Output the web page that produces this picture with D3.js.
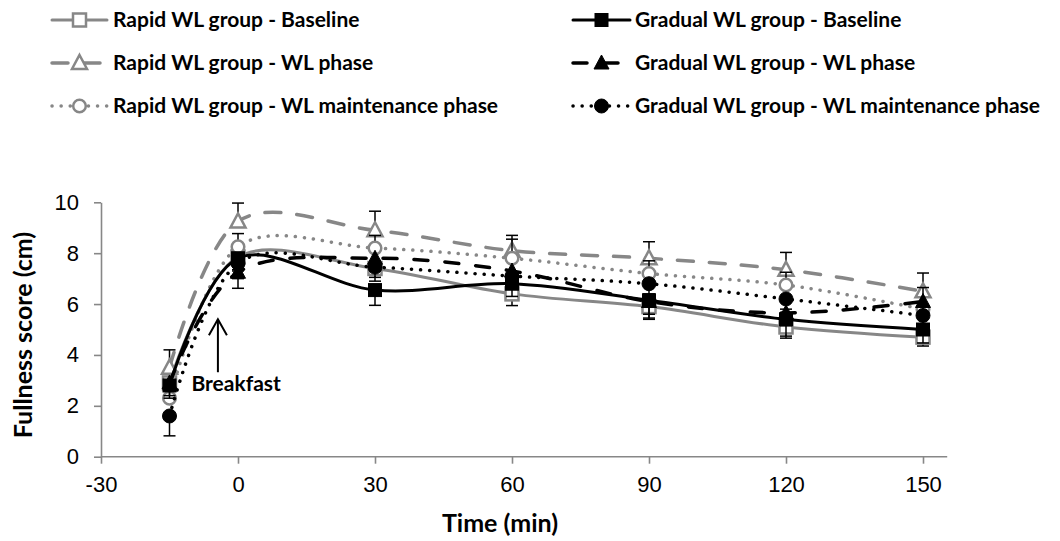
<!DOCTYPE html>
<html>
<head>
<meta charset="utf-8">
<script src="https://cdn.jsdelivr.net/npm/d3@7"></script>
<style>
  body { margin: 0; background: #fff; }
  svg { display: block; font-family: Lato, "Open Sans", sans-serif; }
</style>
</head>
<body>
<svg id="chart" width="1060" height="541"></svg>
<script>
// time points (min) and mean fullness scores (cm)
var times = [-15, 0, 30, 60, 90, 120, 150];

var rapidBaseline   = [2.9, 7.85, 7.4, 6.4, 5.9, 5.1, 4.7];
var rapidWL         = [3.5, 9.25, 8.9, 8.1, 7.8, 7.35, 6.5];
var rapidMaint      = [2.3, 8.25, 8.2, 7.8, 7.2, 6.75, 5.8];
var gradualBaseline = [2.8, 7.8, 6.55, 6.8, 6.15, 5.4, 5.0];
var gradualWL       = [2.9, 7.25, 7.8, 7.3, 6.1, 5.65, 6.1];
var gradualMaint    = [1.6, 7.6, 7.45, 7.1, 6.8, 6.2, 5.55];

// error bar lengths (one direction per series)
var rapidBaselineErr   = [0.5, 0.5, 0.5, 0.46, 0.5, 0.44, 0.35];
var rapidWLErr         = [0.7, 0.72, 0.75, 0.6, 0.65, 0.68, 0.72];
var rapidMaintErr      = [0.5, 0.52, 0.5, 0.75, 0.5, 0.5, 0.85];
var gradualBaselineErr = [0.5, 0.5, 0.6, 0.5, 0.7, 0.66, 0.53];
var gradualWLErr       = [0.5, 0.63, 0.5, 0.5, 0.5, 0.5, 0.5];
var gradualMaintErr    = [0.78, 0.6, 0.4, 0.4, 0.4, 0.4, 0.4];

var seriesNames = [
    "Rapid WL group - Baseline",
    "Rapid WL group - WL phase",
    "Rapid WL group - WL maintenance phase",
    "Gradual WL group - Baseline",
    "Gradual WL group - WL phase",
    "Gradual WL group - WL maintenance phase"
];

var yTicks = [0, 2, 4, 6, 8, 10];
var xTicks = [-30, 0, 30, 60, 90, 120, 150];

var GREY = "#878787";

// styles kept apart from the values
var series = [
    {name: seriesNames[0], vals: rapidBaseline,   err: rapidBaselineErr,   dir: -1, color: GREY,   dash: null,    width: 3,   marker: "square",   filled: false},
    {name: seriesNames[1], vals: rapidWL,         err: rapidWLErr,         dir: 1,  color: GREY,   dash: "16,16", width: 3.5, marker: "triangle", filled: false},
    {name: seriesNames[2], vals: rapidMaint,      err: rapidMaintErr,      dir: 1,  color: GREY,   dash: "0.1,9", width: 3.5, marker: "circle",   filled: false},
    {name: seriesNames[3], vals: gradualBaseline, err: gradualBaselineErr, dir: -1, color: "#000", dash: null,    width: 3,   marker: "square",   filled: true},
    {name: seriesNames[4], vals: gradualWL,       err: gradualWLErr,       dir: -1, color: "#000", dash: "14,17", width: 3.5, marker: "triangle", filled: true},
    {name: seriesNames[5], vals: gradualMaint,    err: gradualMaintErr,    dir: -1, color: "#000", dash: "0.1,9", width: 3.5, marker: "circle",   filled: true}
];

var svg = d3.select("#chart");

var x = d3.scaleLinear().domain([-30, 150]).range([101, 923]);
var y = d3.scaleLinear().domain([0, 10]).range([456.7, 202.3]);

// axes (plain hyphen for negatives, like the original)
var yAxis = d3.axisLeft(y).tickValues(yTicks).tickSize(7).tickSizeOuter(0).tickPadding(15);
var gy = svg.append("g").attr("transform", "translate(" + x(-30) + ",0)").call(yAxis);

var xAxis = d3.axisBottom(x).tickValues(xTicks).tickFormat(function(d) { return String(d); })
    .tickSize(7).tickSizeOuter(0).tickPadding(13);
var gx = svg.append("g").attr("transform", "translate(0," + y(0) + ")").call(xAxis);

[gx, gy].forEach(function(g) {
    g.selectAll("path, line").attr("stroke", GREY).attr("stroke-width", 1.6);
    g.selectAll("text").attr("fill", "#000").style("font-size", "22px");
});
// x axis line runs a bit past the last tick, as in the original
gx.select(".domain").attr("d", "M" + x(-30) + ",0H" + x(155.3));

svg.append("text")
    .attr("transform", "translate(32,335) rotate(-90)")
    .attr("text-anchor", "middle")
    .style("font-size", "25px").style("font-weight", "bold")
    .text("Fullness score (cm)");

svg.append("text")
    .attr("x", 500).attr("y", 532)
    .attr("text-anchor", "middle")
    .style("font-size", "25px").style("font-weight", "bold")
    .text("Time (min)");

// smoothed lines (Excel style smoothing ~ cardinal spline)
var line = d3.line()
    .x(function(d) { return x(d.t); })
    .y(function(d) { return y(d.v); })
    .curve(d3.curveCardinal.tension(0));

function drawMarker(g, type, cx, cy, color, filled) {
    var fill = filled ? color : "#fff";
    var sw = filled ? 1 : 2.5;
    if (type === "square") {
        g.append("rect").attr("x", cx - 6.5).attr("y", cy - 6.5).attr("width", 13).attr("height", 13)
            .attr("fill", fill).attr("stroke", color).attr("stroke-width", sw);
    } else if (type === "triangle") {
        g.append("path").attr("d", "M" + cx + "," + (cy - 8) + "L" + (cx + 7.5) + "," + (cy + 6) + "L" + (cx - 7.5) + "," + (cy + 6) + "Z")
            .attr("fill", fill).attr("stroke", color).attr("stroke-width", sw).attr("stroke-linejoin", "miter");
    } else {
        g.append("circle").attr("cx", cx).attr("cy", cy).attr("r", filled ? 7 : 6.3)
            .attr("fill", fill).attr("stroke", color).attr("stroke-width", sw);
    }
}

var plot = svg.append("g");

series.forEach(function(s) {
    var pts = times.map(function(t, i) { return {t: t, v: s.vals[i], e: s.err[i]}; });
    var g = plot.append("g");

    g.append("path")
        .datum(pts)
        .attr("d", line)
        .attr("fill", "none")
        .attr("stroke", s.color)
        .attr("stroke-width", s.width)
        .attr("stroke-linecap", "round")
        .attr("stroke-dasharray", s.dash);

    // error bars
    pts.forEach(function(p) {
        var x0 = x(p.t), y0 = y(p.v), y1 = y(p.v + s.dir * p.e);
        g.append("line").attr("x1", x0).attr("x2", x0).attr("y1", y0).attr("y2", y1)
            .attr("stroke", "#000").attr("stroke-width", 1.5);
        g.append("line").attr("x1", x0 - 6).attr("x2", x0 + 6).attr("y1", y1).attr("y2", y1)
            .attr("stroke", "#000").attr("stroke-width", 1.5);
    });

    pts.forEach(function(p) {
        drawMarker(g, s.marker, x(p.t), y(p.v), s.color, s.filled);
    });
});

// breakfast annotation
var ann = svg.append("g");
ann.append("line")
    .attr("x1", x(-4.4)).attr("x2", x(-4.4))
    .attr("y1", y(3.32)).attr("y2", y(5.4))
    .attr("stroke", "#000").attr("stroke-width", 2);
ann.append("path")
    .attr("d", "M" + (x(-4.4) - 9) + "," + (y(5.4) + 16) + "L" + x(-4.4) + "," + y(5.4) + "L" + (x(-4.4) + 9) + "," + (y(5.4) + 16))
    .attr("fill", "none").attr("stroke", "#000").attr("stroke-width", 2);
ann.append("text")
    .attr("x", x(-0.4)).attr("y", y(2.86))
    .attr("dy", "0.35em")
    .attr("text-anchor", "middle")
    .style("font-size", "21px").style("font-weight", "bold")
    .text("Breakfast");

// legend: two columns of three
var legendCols = [{x0: 52, x1: 107, tx: 113}, {x0: 573, x1: 630, tx: 635}];
var legendRows = [20, 63, 106];

series.forEach(function(s, i) {
    var col = legendCols[i < 3 ? 0 : 1];
    var ly = legendRows[i % 3];
    var g = svg.append("g");
    g.append("line")
        .attr("x1", col.x0).attr("x2", col.x1).attr("y1", ly).attr("y2", ly)
        .attr("stroke", s.color).attr("stroke-width", s.width)
        .attr("stroke-linecap", "round")
        .attr("stroke-dasharray", s.dash);
    drawMarker(g, s.marker, (col.x0 + col.x1) / 2, ly, s.color, s.filled);
    g.append("text")
        .attr("x", col.tx).attr("y", ly).attr("dy", "0.35em")
        .style("font-size", "21px").style("font-weight", "bold")
        .text(s.name);
});
</script>
</body>
</html>
